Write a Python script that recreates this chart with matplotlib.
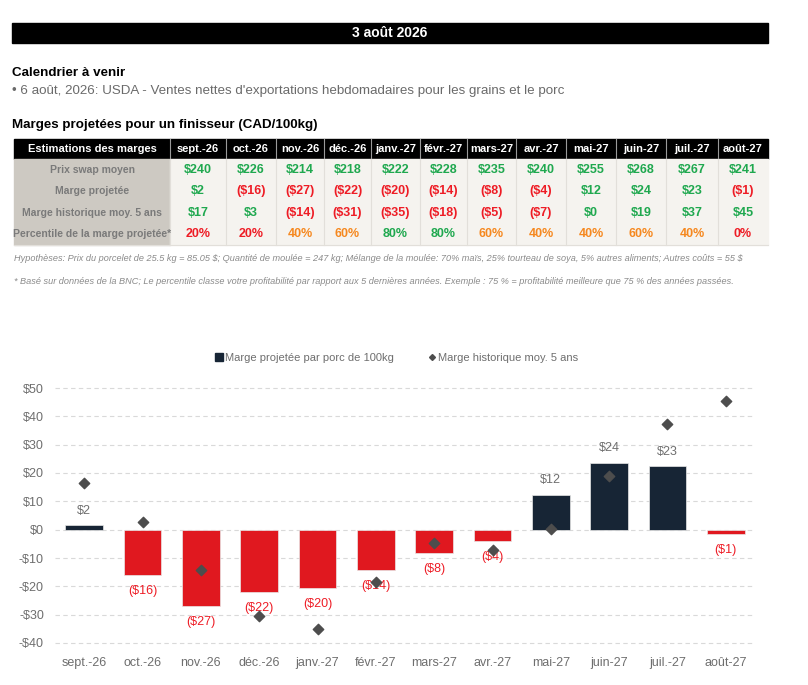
import matplotlib
matplotlib.use("Agg")
import matplotlib.pyplot as plt
import matplotlib.lines as mlines
from matplotlib.patches import Rectangle
from matplotlib import font_manager

available = {f.name for f in font_manager.fontManager.ttflist}
NARROW = "Liberation Sans Narrow" if "Liberation Sans Narrow" in available else "Liberation Sans"
plt.rcParams["font.family"] = [NARROW, "DejaVu Sans"]
plt.rcParams["text.parse_math"] = False

# ---- data ----
months = ["sept.-26", "oct.-26", "nov.-26", "déc.-26", "janv.-27", "févr.-27",
          "mars-27", "avr.-27", "mai-27", "juin-27", "juil.-27", "août-27"]
swap_price = [240, 226, 214, 218, 222, 228, 235, 240, 255, 268, 267, 241]
margin_table = [2, -16, -27, -22, -20, -14, -8, -4, 12, 24, 23, -1]
hist_table = [17, 3, -14, -31, -35, -18, -5, -7, 0, 19, 37, 45]
percentile = [20, 20, 40, 60, 80, 80, 60, 40, 40, 60, 40, 0]

# values as drawn in the chart
margin_bar = [1.5, -15.9, -27.1, -22.1, -20.5, -14.1, -8.1, -4.1, 12.4, 23.6, 22.4, -1.4]
hist_point = [16.5, 2.7, -14.3, -30.6, -35.2, -18.5, -4.8, -7.3, 0.1, 19.0, 37.2, 45.4]

NAVY = "#172535"
RED_BAR = "#e0181f"
GREEN = "#1fa84f"
RED_TXT = "#ee1c25"
ORANGE = "#f5881f"
GRAY_TXT = "#6e6e6e"

narrow = NARROW != "Liberation Sans"
fs_label = 9.5 if narrow else 7.5
fs_head = 9.5 if narrow else 8.0
fs_note = 7.6 if narrow else 6.6


def money(v):
    return f"${v}" if v >= 0 else f"(${-v})"


def pct_color(p):
    if p <= 20:
        return RED_TXT
    if p <= 60:
        return ORANGE
    return GREEN


fig = plt.figure(figsize=(8.08, 6.85), dpi=100)

# layout layer in pixel coordinates
lay = fig.add_axes([0, 0, 1, 1])
lay.set_xlim(0, 808)
lay.set_ylim(685, 0)
lay.axis("off")

lay.add_patch(Rectangle((12, 23), 756, 20, color="black"))
lay.text(390, 33, "3 août 2026", color="white", fontsize=10, fontweight="bold",
         ha="center", va="center")
lay.text(12, 73, "Calendrier à venir", fontsize=9.6, fontweight="bold",
         family=["Liberation Sans", "DejaVu Sans"], va="center")
lay.text(12, 91, "• 6 août, 2026: USDA - Ventes nettes d'exportations hebdomadaires pour les grains et le porc",
         fontsize=9.6, color="#6a6a6a", family=["Liberation Sans", "DejaVu Sans"], va="center")
lay.text(12, 125, "Marges projetées pour un finisseur (CAD/100kg)", fontsize=9.6,
         fontweight="bold", family=["Liberation Sans", "DejaVu Sans"], va="center")

# table
edges = [14, 170, 226, 276, 324, 371, 420, 467, 516, 566, 616, 666, 718, 768]
head_top, head_bot, body_bot = 139, 159, 245
lay.add_patch(Rectangle((edges[0], head_top), edges[-1] - edges[0], head_bot - head_top,
                        color="black"))
lay.add_patch(Rectangle((edges[0], head_bot), edges[1] - edges[0], body_bot - head_bot,
                        color="#cdc9c2"))
lay.add_patch(Rectangle((edges[1], head_bot), edges[-1] - edges[1], body_bot - head_bot,
                        color="#f5f3ef"))
for xe in edges[1:-1]:
    lay.plot([xe, xe], [head_top, head_bot], color="#9a9a9a", lw=0.8)
    lay.plot([xe, xe], [head_bot, body_bot], color="#e2dfda", lw=0.8)
lay.plot([edges[0], edges[-1]], [body_bot, body_bot], color="#e2dfda", lw=0.8)

row_names = ["Prix swap moyen", "Marge projetée", "Marge historique moy. 5 ans",
             "Percentile de la marge projetée*"]
row_h = (body_bot - head_bot) / 4
lay.text((edges[0] + edges[1]) / 2, (head_top + head_bot) / 2, "Estimations des marges",
         color="white", fontsize=fs_head, fontweight="bold", ha="center", va="center")
for r, name in enumerate(row_names):
    lay.text((edges[0] + edges[1]) / 2, head_bot + row_h * (r + 0.5), name,
             color="#7a7a7a", fontsize=fs_label, fontweight="bold", ha="center", va="center")

for c, m in enumerate(months):
    xc = (edges[c + 1] + edges[c + 2]) / 2
    lay.text(xc, (head_top + head_bot) / 2, m, color="white", fontsize=fs_head,
             fontweight="bold", ha="center", va="center")
    cells = [
        (f"${swap_price[c]}", GREEN),
        (money(margin_table[c]), GREEN if margin_table[c] >= 0 else RED_TXT),
        (money(hist_table[c]), GREEN if hist_table[c] >= 0 else RED_TXT),
        (f"{percentile[c]}%", pct_color(percentile[c])),
    ]
    for r, (txt, col) in enumerate(cells):
        lay.text(xc, head_bot + row_h * (r + 0.5), txt, color=col, fontsize=9,
                 fontweight="bold", ha="center", va="center")

lay.text(14, 258, "Hypothèses: Prix du porcelet de 25.5 kg = 85.05 $; Quantité de moulée = 247 kg; "
         "Mélange de la moulée: 70% maïs, 25% tourteau de soya, 5% autres aliments; Autres coûts = 55 $",
         fontsize=fs_note, style="italic", color="#8a8a8a", va="center")
lay.text(14, 281, "* Basé sur données de la BNC; Le percentile classe votre profitabilité par rapport aux "
         "5 dernières années. Exemple : 75 % = profitabilité meilleure que 75 % des années passées.",
         fontsize=fs_note, style="italic", color="#8a8a8a", va="center")

# chart
ax = fig.add_axes([55 / 808, (685 - 651.5) / 685, 700 / 808, 272 / 685])
ax.set_facecolor("none")
x = list(range(len(months)))
colors = [NAVY if v >= 0 else RED_BAR for v in margin_bar]
ax.bar(x, margin_bar, width=0.65, color=colors, edgecolor="#e8e8e8", linewidth=0.5, zorder=2)
ax.scatter(x, hist_point, marker="D", s=28, color="#4d4d4d", zorder=4)

for xi, v, lab in zip(x, margin_bar, margin_table):
    if lab >= 0:
        ax.annotate(money(lab), (xi, v), xytext=(0, 10.5), textcoords="offset points",
                    ha="center", va="center", fontsize=9, color=GRAY_TXT, zorder=3)
    else:
        ax.annotate(money(lab), (xi, v), xytext=(0, -11.5), textcoords="offset points",
                    ha="center", va="center", fontsize=9, color=RED_TXT, zorder=3)

ax.set_xlim(-0.5, len(months) - 0.5)
ax.set_ylim(-43, 53)
yt = list(range(-40, 51, 10))
ax.set_yticks(yt)
ax.set_yticklabels([f"${v}" if v >= 0 else f"-${-v}" for v in yt])
ax.set_xticks(x)
ax.set_xticklabels(months)
ax.tick_params(axis="both", length=0, labelsize=9, colors=GRAY_TXT)
ax.tick_params(axis="y", pad=8)
ax.tick_params(axis="x", pad=4)
for s in ax.spines.values():
    s.set_visible(False)
ax.grid(axis="y", linestyle=(0, (4, 3)), color="#d9d9d9", lw=0.8, zorder=0)
ax.set_axisbelow(True)

handles = [
    mlines.Line2D([], [], marker="s", markersize=5.5, color=NAVY, linestyle="none",
                  label="Marge projetée par porc de 100kg"),
    mlines.Line2D([], [], marker="D", markersize=3, color="#4d4d4d", linestyle="none",
                  label="Marge historique moy. 5 ans"),
]
fig.legend(handles=handles, loc="center", bbox_to_anchor=(397 / 808, 1 - 358 / 685),
           ncol=2, frameon=False, fontsize=8, handlelength=0.6, handletextpad=0.2,
           columnspacing=3.2, labelcolor=GRAY_TXT)

fig.savefig("out.png", dpi=100)
